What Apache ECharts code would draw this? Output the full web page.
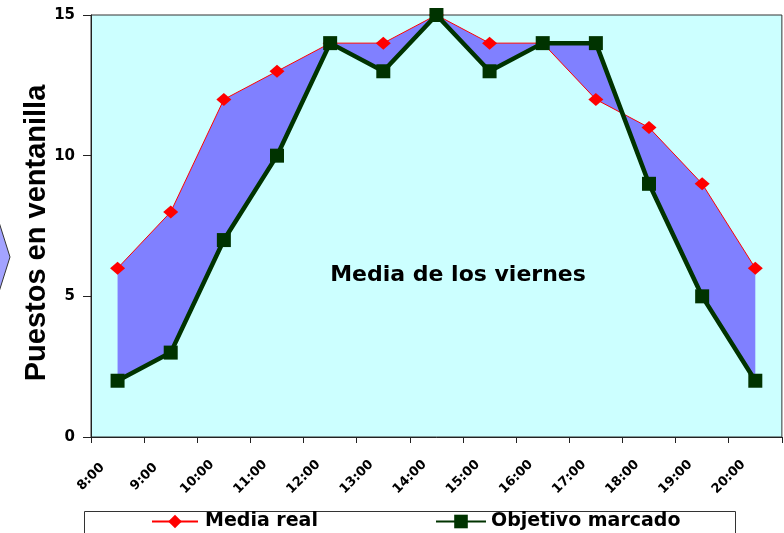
<!DOCTYPE html>
<html>
<head>
<meta charset="utf-8">
<script src="https://cdn.jsdelivr.net/npm/echarts@6/dist/echarts.min.js"></script>
<style>
html,body{margin:0;padding:0;background:#fff}
#chart{width:784px;height:533px}
</style>
</head>
<body>
<div id="chart"></div>
<script>
// franjas horarias (etiqueta al inicio de cada franja)
var horas = ['8:00','9:00','10:00','11:00','12:00','13:00','14:00','15:00','16:00','17:00','18:00','19:00','20:00']
var mediaReal = [6, 8, 12, 13, 14, 14, 15, 14, 14, 12, 11, 9, 6]
var objetivo = [2, 3, 7, 10, 14, 13, 15, 13, 14, 14, 9, 5, 2]

// punto en el centro de cada franja
function toPts(arr){
  return arr.map(function(v,i){ return [i+0.5, v] })
}
var realPts = toPts(mediaReal)
var objPts = toPts(objetivo)

var chart = echarts.init(document.getElementById('chart'))
var fontB = 'DejaVu Sans'

var option = {
  animation:false,
  backgroundColor:'#fff',
  grid:{
    left:91, right:1, top:15, bottom:96,
    show:true,
    backgroundColor:'#ccffff',
    borderColor:'#333',
    borderWidth:1
  },
  xAxis:{
    type:'value',
    min:0,
    max:horas.length,
    interval:1,
    splitLine:{show:false},
    axisLine:{lineStyle:{color:'#222',width:1}},
    axisTick:{show:true,length:6,lineStyle:{color:'#222'}},
    axisLabel:{
      rotate:45,
      margin:40,
      align:'center',
      verticalAlign:'middle',
      fontFamily:fontB,
      fontWeight:'bold',
      fontSize:13,
      color:'#000',
      showMaxLabel:true,
      formatter:function(v){ return horas[v] || '' }
    }
  },
  yAxis:{
    type:'value',
    min:0,
    max:15,
    interval:5,
    splitLine:{show:false},
    axisLine:{show:true,lineStyle:{color:'#222',width:1}},
    axisTick:{show:true,length:8,lineStyle:{color:'#222'}},
    axisLabel:{margin:16,fontFamily:fontB,fontWeight:'bold',fontSize:15,color:'#000'}
  },
  legend:[
    {
      left:146, top:507,
      itemWidth:46, itemHeight:17, itemGap:0,
      data:['Media real'],
      textStyle:{fontFamily:fontB,fontWeight:'bold',fontSize:19,color:'#000',padding:[0,0,0,2]}
    },
    {
      left:430, top:507,
      itemWidth:50, itemHeight:17, itemGap:0,
      data:['Objetivo marcado'],
      textStyle:{fontFamily:fontB,fontWeight:'bold',fontSize:19,color:'#000'}
    }
  ],
  graphic:[
    {
      type:'rect', z:-1,
      shape:{x:84.5, y:511.5, width:651, height:40},
      style:{fill:'#fff', stroke:'#333', lineWidth:1}
    },
    {
      type:'polygon',
      shape:{points:[[-2,219],[10,257],[-2,295]]},
      style:{fill:'#a3a3ff', stroke:'#333', lineWidth:1}
    },
    {
      type:'text',
      x:37, y:233,
      rotation:Math.PI/2,
      style:{
        text:'Puestos en ventanilla',
        fontFamily:'Liberation Sans, Arial',
        fontWeight:'bold',
        fontSize:29,
        fill:'#000',
        align:'center',
        verticalAlign:'middle'
      }
    },
    {
      type:'text',
      x:458, y:275,
      style:{
        text:'Media de los viernes',
        fontFamily:fontB,
        fontWeight:'bold',
        fontSize:22,
        fill:'#000',
        align:'center',
        verticalAlign:'middle'
      }
    }
  ],
  series:[
    {
      // relleno entre las dos curvas
      type:'custom',
      silent:true,
      z:1,
      data:[[6.5,7]],
      renderItem:function(params,api){
        var pts = realPts.map(function(p){ return api.coord(p) })
        var back = objPts.slice().reverse().map(function(p){ return api.coord(p) })
        return {
          type:'polygon',
          shape:{points:pts.concat(back)},
          style:{fill:'#8080ff'}
        }
      }
    },
    {
      name:'Media real',
      type:'line',
      z:2,
      data:realPts,
      symbol:'diamond',
      symbolSize:[15,13],
      itemStyle:{color:'#ff0000'},
      lineStyle:{color:'#ff0000',width:1}
    },
    {
      name:'Objetivo marcado',
      type:'line',
      z:3,
      data:objPts,
      symbol:'rect',
      symbolSize:14,
      itemStyle:{color:'#003300'},
      lineStyle:{color:'#003300',width:4.5}
    }
  ]
}
chart.setOption(option)
</script>
</body>
</html>
